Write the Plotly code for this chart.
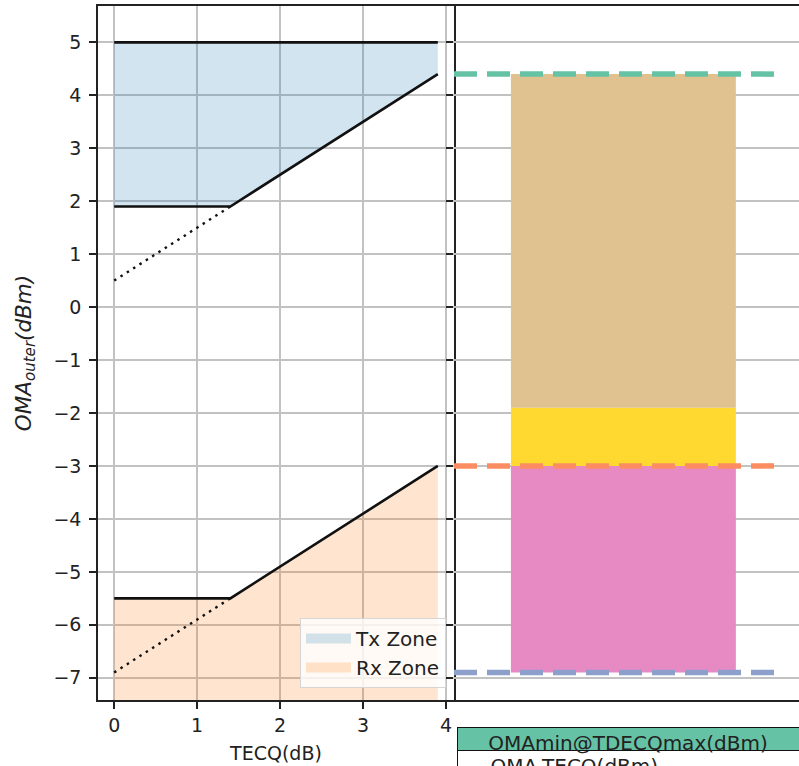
import plotly.graph_objects as go

# ---- data ----
tecq_x = [0.0, 1.4, 3.9]
tx_upper = [5.0, 5.0, 5.0]
tx_lower = [1.9, 1.9, 4.4]
rx_upper = [-5.5, -5.5, -3.0]
rx_floor = [-8.0, -8.0, -8.0]
tx_dot_x = [0.0, 1.4]
tx_dot_y = [0.5, 1.9]
rx_dot_x = [0.0, 1.4]
rx_dot_y = [-6.9, -5.5]

zone_names = ["Tx Zone", "Rx Zone"]
zone_colors = ["rgba(31,119,180,0.2)", "rgba(255,127,14,0.2)"]

bar_levels = [-6.9, -3.0, -1.9, 4.4]
bar_colors = ["#e78ac3", "#ffd92f", "#e0c290"]
bar_pos = 0.491
bar_width = 0.652

hline_vals = [4.4, -3.0, -6.9]
hline_colors = ["#66c2a5", "#fc8d62", "#8da0cb"]
hline_x = [0.0, 0.9536]

table_header = ["OMAmin@TDECQmax(dBm)"]
table_cells = [["OMA-TECQ(dBm)"]]

FONT = "DejaVu Sans"
TXT = "#222222"
GRID = "#c2c2c2"

W, H = 799, 766
ML, MT = 98, 6
PW, PH = W - ML, H - MT
left_end = (454 - ML) / PW
axis_bottom = (H - 700) / PH


def polygon(xs, lo, hi):
    return xs + xs[::-1], hi + lo[::-1]


fig = go.Figure()

# zone fills
for (lo, hi), col in zip(((tx_lower, tx_upper), (rx_floor, rx_upper)), zone_colors):
    px, py = polygon(tecq_x, lo, hi)
    fig.add_trace(go.Scatter(x=px, y=py, mode="lines", line=dict(width=0), fill="toself",
                             fillcolor=col, showlegend=False, hoverinfo="skip",
                             xaxis="x", yaxis="y"))
# legend proxies (patch-like)
for name, col in zip(zone_names, zone_colors):
    fig.add_trace(go.Scatter(x=[None], y=[None], mode="lines", name=name,
                             line=dict(color=col, width=15), xaxis="x", yaxis="y"))

# black boundary lines
for yy in (tx_upper, tx_lower, rx_upper):
    fig.add_trace(go.Scatter(x=tecq_x, y=yy, mode="lines", line=dict(color="#111111", width=2.6),
                             showlegend=False, xaxis="x", yaxis="y"))
for xx, yy in ((tx_dot_x, tx_dot_y), (rx_dot_x, rx_dot_y)):
    fig.add_trace(go.Scatter(x=xx, y=yy, mode="lines",
                             line=dict(color="#111111", width=2.4, dash="2.5px,5px"),
                             showlegend=False, xaxis="x", yaxis="y"))

# right panel bars
for i in range(len(bar_colors)):
    fig.add_trace(go.Bar(x=[bar_pos], y=[bar_levels[i + 1] - bar_levels[i]], base=[bar_levels[i]],
                         width=[bar_width], marker=dict(color=bar_colors[i], line=dict(width=0)),
                         showlegend=False, xaxis="x2", yaxis="y2"))
for v, c in zip(hline_vals, hline_colors):
    fig.add_trace(go.Scatter(x=hline_x, y=[v, v], mode="lines",
                             line=dict(color=c, width=5.5, dash="23px,10px"),
                             showlegend=False, xaxis="x2", yaxis="y2"))

# table
fig.add_trace(go.Table(
    domain=dict(x=[(457 - ML) / PW, 1.0], y=[0.0, (H - 727) / PH]),
    header=dict(values=table_header, fill_color="#66c2a5", line_color="#111111",
                height=23, align="center", font=dict(family=FONT, size=20, color=TXT)),
    cells=dict(values=table_cells, fill_color="white", line_color="#111111",
               height=23, align="left", prefix="\u00a0\u00a0\u00a0\u00a0",
               font=dict(family=FONT, size=20, color=TXT)),
))

axis_common = dict(showline=True, linecolor="#222222", linewidth=1.5, ticks="outside",
                   ticklen=7, tickwidth=1.5, tickcolor="#222222", gridcolor=GRID, gridwidth=1.5,
                   zeroline=False, tickfont=dict(family=FONT, size=19, color=TXT))

fig.update_layout(
    width=W, height=H,
    margin=dict(l=ML, r=0, t=MT, b=0, autoexpand=False),
    paper_bgcolor="white", plot_bgcolor="white",
    barmode="overlay",
    font=dict(family=FONT, color=TXT),
    xaxis=dict(domain=[0, left_end], range=[-0.195, 4.095], tickvals=[0, 1, 2, 3, 4],
               mirror=True, anchor="y", automargin=False,
               title=dict(text="TECQ(dB)", font=dict(family=FONT, size=19, color=TXT), standoff=12),
               **axis_common),
    yaxis=dict(domain=[axis_bottom, 1], range=[-7.42, 5.686], tickvals=list(range(-7, 6)),
               mirror=True, anchor="x", automargin=False,
               ticklabelstandoff=4,
               title=dict(text="<i>OMA</i><sub><i>outer</i></sub><i>(dBm)</i>",
                          font=dict(family=FONT, size=21.5, color=TXT), standoff=16),
               **axis_common),
    xaxis2=dict(domain=[left_end, 1], range=[0, 1], showline=True, mirror=True,
                linecolor="#222222", linewidth=1.5, showgrid=False, showticklabels=False,
                ticks="", zeroline=False, anchor="y2", automargin=False),
    yaxis2=dict(domain=[axis_bottom, 1], matches="y", anchor="x2", showline=False,
                showticklabels=False, ticks="outside", ticklen=7, tickwidth=1.5,
                tickcolor="#222222", gridcolor=GRID, gridwidth=1.5, zeroline=False,
                tickvals=list(range(-7, 6)), automargin=False),
    legend=dict(x=(446 - ML) / PW, y=(H - 688) / PH, xanchor="right", yanchor="bottom",
                bgcolor="rgba(255,255,255,0.8)", bordercolor="#d5d5d5", borderwidth=1,
                font=dict(family=FONT, size=20, color=TXT), itemwidth=45,
                traceorder="normal", tracegroupgap=0),
)

fig.write_html("out.html")
